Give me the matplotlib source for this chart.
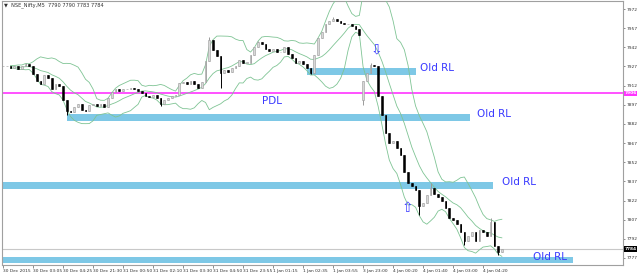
import matplotlib
matplotlib.use("Agg")
import matplotlib.pyplot as plt
import numpy as np
import pandas as pd

# closes (10 min steps)
closes = [7927, 7927, 7926, 7927, 7925, 7927, 7929, 7927, 7921, 7916,
          7913, 7920, 7918, 7909, 7913, 7912, 7901, 7892, 7891, 7895,
          7898, 7893, 7892, 7897, 7898, 7896, 7898, 7895, 7902, 7907,
          7909, 7908, 7909, 7909, 7910, 7909, 7908, 7906, 7904, 7903,
          7905, 7902, 7898, 7901, 7902, 7904, 7905, 7914, 7915, 7913,
          7916, 7913, 7910, 7915, 7931, 7948, 7940, 7935, 7922, 7924,
          7923, 7926, 7927, 7932, 7930, 7930, 7936, 7942, 7946, 7945,
          7941, 7939, 7941, 7938, 7938, 7942, 7937, 7934, 7930, 7931,
          7929, 7926, 7922, 7936, 7949, 7954, 7960, 7963, 7964, 7963,
          7961, 7960, 7960, 7959, 7956, 7952, 7916, 7922, 7928, 7927,
          7904, 7889, 7875, 7867, 7869, 7863, 7858, 7844, 7836, 7833,
          7830, 7818, 7820, 7826, 7832, 7827, 7825, 7822, 7816, 7808,
          7807, 7804, 7797, 7790, 7794, 7797, 7790, 7799, 7797, 7794,
          7805, 7786, 7782, 7784]
gap_open = {96: 7901}
highs = {6: 7930, 55: 7950, 68: 7947, 88: 7966, 98: 7930, 114: 7836, 130: 7808}
lows = {17: 7889, 42: 7896, 58: 7910, 82: 7921, 96: 7897, 111: 7811, 123: 7787, 132: 7779}

xlabels = ["30 Dec 2015", "30 Dec 03:05", "30 Dec 04:25", "30 Dec 21:30", "31 Dec 00:50",
           "31 Dec 02:10", "31 Dec 03:30", "31 Dec 04:50", "31 Dec 23:55", "1 Jan 01:15",
           "1 Jan 02:35", "1 Jan 03:55", "3 Jan 23:00", "4 Jan 00:20", "4 Jan 01:40",
           "4 Jan 03:00", "4 Jan 04:20"]
yticks = [7972, 7957, 7942, 7927, 7912, 7897, 7882, 7867, 7852, 7837, 7822, 7807, 7792, 7777]

pdl = 7906
last = 7784
# zones: (x from, x to, price low, price high, label x)
zones = [(81.1, 110.1, 7920.3, 7925.8, 111.2),
         (17.1, 124.5, 7884.3, 7889.8, 126.4),
         (-0.3, 130.7, 7831.0, 7836.5, 133.1),
         (-0.3, 152.0, 7773.1, 7777.8, 141.3)]

n = len(closes)
x = np.arange(n)
opens = [closes[0]] + closes[:-1]
for k, v in gap_open.items():
    opens[k] = v

ylo, yhi = 7771.5, 7978.3
fig = plt.figure(figsize=(6.4, 2.73), dpi=100)
ax = fig.add_axes([2/640, 8/273, 621/640, 264/273])
ax.set_xlim(-0.27, 165.3)
ax.set_ylim(ylo, yhi)

# zones
for x0, x1, lo, hi, lx in zones:
    ax.fill_between([x0, x1], lo, hi, color="#7ec8e6", lw=0, zorder=1)
    ax.text(lx, (lo+hi)/2 + 2.5, "Old RL", color="#3a3aff", fontsize=7.5, va="center", ha="left", zorder=6)

ax.axhline(pdl, color="#ff33ff", lw=1.2, zorder=2)
ax.text(69.1, 7900, "PDL", color="#3a3aff", fontsize=7.5, va="center", ha="left", zorder=6)
ax.axhline(last, color="#c8c8c8", lw=0.8, zorder=1)

# bollinger bands
s = pd.Series(closes, dtype=float)
mid = s.rolling(10, min_periods=3).mean()
sd = s.rolling(10, min_periods=3).std()
for line in (mid, mid + 2*sd, mid - 2*sd):
    ax.plot(x, line, color="#7fc494", lw=0.6, zorder=3)

# candles
for i in range(n):
    o, c = opens[i], closes[i]
    hi = highs.get(i, max(o, c))
    lo = lows.get(i, min(o, c))
    up = c >= o
    col = "#9a9a9a" if up else "black"
    ax.vlines(i, lo, hi, color=col, lw=0.7, zorder=4)
    h = c - o
    if abs(h) < 0.6:
        h = 0.6
    ax.bar(i, h, bottom=o, width=0.45, color="#d8d8d8" if up else "black",
           edgecolor=col, lw=0.4, zorder=5)

# arrows
ax.text(99.5, 7940, "\u21e9", color="#3a3aff", fontsize=10, ha="center", va="center", zorder=6)
ax.text(107.7, 7816, "\u21e7", color="#3a3aff", fontsize=10, ha="center", va="center", zorder=6)

# axes look
for sp in ax.spines.values():
    sp.set_color("#a0a0a0")
    sp.set_linewidth(0.8)
ax.yaxis.tick_right()
ax.set_yticks(yticks)
ax.set_yticklabels([str(v) for v in yticks])
ax.set_xticks(np.arange(len(xlabels)) * 8)
ax.set_xticklabels(xlabels, ha="left")
ax.tick_params(axis="x", labelsize=3.2, length=2, width=0.5, color="#606060", pad=1, labelcolor="#303030")
ax.tick_params(axis="y", labelsize=3.2, length=1.5, width=0.5, color="#606060", pad=1, labelcolor="#303030")

# price boxes on the right axis
ax.text(1.002, (pdl - ylo)/(yhi - ylo), str(pdl), transform=ax.transAxes, fontsize=3.2,
        color="white", va="center", ha="left", fontweight="bold",
        bbox=dict(boxstyle="square,pad=0.15", fc="#ff33ff", ec="none"))
ax.text(1.002, (last - ylo)/(yhi - ylo), str(last), transform=ax.transAxes, fontsize=3.2,
        color="white", va="center", ha="left", fontweight="bold",
        bbox=dict(boxstyle="square,pad=0.15", fc="black", ec="none"))

fig.text(4/640, 1 - 5/273, "\u25bc  NSE_Nifty,M5  7790 7790 7783 7784", fontsize=3.6, color="#303030",
         va="center", ha="left")

fig.savefig("out.png", dpi=100)
